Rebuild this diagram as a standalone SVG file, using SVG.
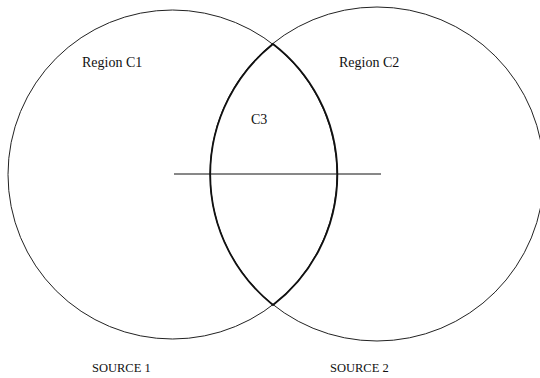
<svg xmlns="http://www.w3.org/2000/svg" width="540" height="378" viewBox="0 0 540 378">
<style>
.c{fill:none;stroke:#222;stroke-width:1}
.lens{fill:none;stroke:#111;stroke-width:1.8}
.t{font-family:"Liberation Serif","Times New Roman",serif;font-size:14px;fill:#111}
.s{font-family:"Liberation Serif","Times New Roman",serif;font-size:12.5px;fill:#111}
</style>
<rect width="540" height="378" fill="#fff"/>
<g id="region-c1">
<circle class="c" cx="172.5" cy="174.5" r="164.5"/>
<text class="t" x="82" y="67">Region C1</text>
</g>
<g id="region-c2">
<circle class="c" cx="377" cy="174" r="167"/>
<text class="t" x="339" y="67">Region C2</text>
</g>
<g id="region-c3">
<path class="lens" d="M273,44 A167,167 0 0 0 273,305 A164.5,164.5 0 0 0 273,44 Z"/>
<text class="t" x="251" y="124">C3</text>
</g>
<g id="connectors">
<line x1="174" y1="174" x2="381" y2="174" stroke="#111" stroke-width="1"/>
</g>
<g id="source-1"><text class="s" x="92" y="372">SOURCE 1</text></g>
<g id="source-2"><text class="s" x="330" y="372">SOURCE 2</text></g>
</svg>
